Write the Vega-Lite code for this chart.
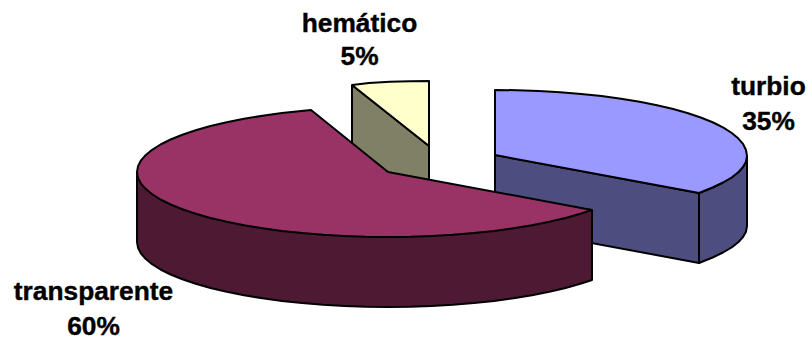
{
"$schema":"https://vega.github.io/schema/vega-lite/v6.json",
"width":812,"height":343,"padding":0,
"autosize":{"type":"fit","contains":"padding"},
"background":"white",
"view":{"stroke":null},
"datasets":{
"labels":[
{"slice":"turbio","share":0.35,"x":768.5,"yName":95,"yShare":130},
{"slice":"transparente","share":0.60,"x":93.5,"yName":300,"yShare":335},
{"slice":"hemático","share":0.05,"x":359.5,"yName":32,"yShare":65}
],
"faces":[
{"f":"hemático lado","i":0,"x":352,"y":85},{"f":"hemático lado","i":1,"x":429,"y":146},{"f":"hemático lado","i":2,"x":429,"y":216},{"f":"hemático lado","i":3,"x":352,"y":155},{"f":"hemático lado","i":4,"x":352,"y":85},
{"f":"hemático topo","i":0,"x":429,"y":146},{"f":"hemático topo","i":1,"x":352,"y":85},{"f":"hemático topo","i":2,"x":369,"y":83},{"f":"hemático topo","i":3,"x":390,"y":81.8},{"f":"hemático topo","i":4,"x":410,"y":81.2},{"f":"hemático topo","i":5,"x":429,"y":81},{"f":"hemático topo","i":6,"x":429,"y":146},
{"f":"turbio corte","i":0,"x":495,"y":155},{"f":"turbio corte","i":1,"x":699,"y":193},{"f":"turbio corte","i":2,"x":699,"y":263},{"f":"turbio corte","i":3,"x":495,"y":225},{"f":"turbio corte","i":4,"x":495,"y":155},
{"f":"turbio lado","i":0,"x":699,"y":193},{"f":"turbio lado","i":1,"x":712.6,"y":187.5},{"f":"turbio lado","i":2,"x":723,"y":182.5},{"f":"turbio lado","i":3,"x":731.6,"y":177.5},{"f":"turbio lado","i":4,"x":738.2,"y":172.3},{"f":"turbio lado","i":5,"x":743,"y":167},{"f":"turbio lado","i":6,"x":746,"y":161.7},{"f":"turbio lado","i":7,"x":747,"y":156},{"f":"turbio lado","i":8,"x":747,"y":226},{"f":"turbio lado","i":9,"x":746,"y":231.7},{"f":"turbio lado","i":10,"x":743,"y":237},{"f":"turbio lado","i":11,"x":738.2,"y":242.3},{"f":"turbio lado","i":12,"x":731.6,"y":247.5},{"f":"turbio lado","i":13,"x":723,"y":252.5},{"f":"turbio lado","i":14,"x":712.6,"y":257.5},{"f":"turbio lado","i":15,"x":699,"y":263},{"f":"turbio lado","i":16,"x":699,"y":193},
{"f":"turbio topo","i":0,"x":495,"y":155},{"f":"turbio topo","i":1,"x":495,"y":90},{"f":"turbio topo","i":2,"x":516.9,"y":90.2},{"f":"turbio topo","i":3,"x":538.7,"y":91},{"f":"turbio topo","i":4,"x":560.2,"y":92.2},{"f":"turbio topo","i":5,"x":581.1,"y":93.9},{"f":"turbio topo","i":6,"x":601.5,"y":96.1},{"f":"turbio topo","i":7,"x":621,"y":98.7},{"f":"turbio topo","i":8,"x":639.6,"y":101.8},{"f":"turbio topo","i":9,"x":657,"y":105.2},{"f":"turbio topo","i":10,"x":673.2,"y":109},{"f":"turbio topo","i":11,"x":688.1,"y":113.2},{"f":"turbio topo","i":12,"x":701.4,"y":117.7},{"f":"turbio topo","i":13,"x":713.2,"y":122.5},{"f":"turbio topo","i":14,"x":723.4,"y":127.7},{"f":"turbio topo","i":15,"x":731.8,"y":133},{"f":"turbio topo","i":16,"x":738.4,"y":138.6},{"f":"turbio topo","i":17,"x":743.2,"y":144.2},{"f":"turbio topo","i":18,"x":746,"y":150},{"f":"turbio topo","i":19,"x":747,"y":156},{"f":"turbio topo","i":20,"x":746,"y":161.7},{"f":"turbio topo","i":21,"x":743,"y":167},{"f":"turbio topo","i":22,"x":738.2,"y":172.3},{"f":"turbio topo","i":23,"x":731.6,"y":177.5},{"f":"turbio topo","i":24,"x":723,"y":182.5},{"f":"turbio topo","i":25,"x":712.6,"y":187.5},{"f":"turbio topo","i":26,"x":699,"y":193},{"f":"turbio topo","i":27,"x":495,"y":155},
{"f":"transparente lado","i":0,"x":592,"y":210},{"f":"transparente lado","i":1,"x":592,"y":280},{"f":"transparente lado","i":2,"x":580.3,"y":283.8},{"f":"transparente lado","i":3,"x":565.5,"y":288},{"f":"transparente lado","i":4,"x":549.3,"y":291.8},{"f":"transparente lado","i":5,"x":532,"y":295.2},{"f":"transparente lado","i":6,"x":513.5,"y":298.3},{"f":"transparente lado","i":7,"x":494.1,"y":300.9},{"f":"transparente lado","i":8,"x":473.8,"y":303.1},{"f":"transparente lado","i":9,"x":453,"y":304.8},{"f":"transparente lado","i":10,"x":431.6,"y":306},{"f":"transparente lado","i":11,"x":409.9,"y":306.8},{"f":"transparente lado","i":12,"x":388,"y":307},{"f":"transparente lado","i":13,"x":366.1,"y":306.8},{"f":"transparente lado","i":14,"x":344.4,"y":306},{"f":"transparente lado","i":15,"x":323,"y":304.8},{"f":"transparente lado","i":16,"x":302.2,"y":303.1},{"f":"transparente lado","i":17,"x":281.9,"y":300.9},{"f":"transparente lado","i":18,"x":262.5,"y":298.3},{"f":"transparente lado","i":19,"x":244,"y":295.2},{"f":"transparente lado","i":20,"x":226.7,"y":291.8},{"f":"transparente lado","i":21,"x":210.5,"y":288},{"f":"transparente lado","i":22,"x":195.7,"y":283.8},{"f":"transparente lado","i":23,"x":182.4,"y":279.3},{"f":"transparente lado","i":24,"x":170.6,"y":274.5},{"f":"transparente lado","i":25,"x":160.5,"y":269.5},{"f":"transparente lado","i":26,"x":152.1,"y":264.2},{"f":"transparente lado","i":27,"x":145.6,"y":258.8},{"f":"transparente lado","i":28,"x":140.8,"y":253.3},{"f":"transparente lado","i":29,"x":138,"y":247.7},{"f":"transparente lado","i":30,"x":137,"y":242},{"f":"transparente lado","i":31,"x":137,"y":172},{"f":"transparente lado","i":32,"x":592,"y":210},
{"f":"transparente topo","i":0,"x":388,"y":172},{"f":"transparente topo","i":1,"x":592,"y":210},{"f":"transparente topo","i":2,"x":580.3,"y":213.8},{"f":"transparente topo","i":3,"x":565.5,"y":218},{"f":"transparente topo","i":4,"x":549.3,"y":221.8},{"f":"transparente topo","i":5,"x":532,"y":225.2},{"f":"transparente topo","i":6,"x":513.5,"y":228.3},{"f":"transparente topo","i":7,"x":494.1,"y":230.9},{"f":"transparente topo","i":8,"x":473.8,"y":233.1},{"f":"transparente topo","i":9,"x":453,"y":234.8},{"f":"transparente topo","i":10,"x":431.6,"y":236},{"f":"transparente topo","i":11,"x":409.9,"y":236.8},{"f":"transparente topo","i":12,"x":388,"y":237},{"f":"transparente topo","i":13,"x":366.1,"y":236.8},{"f":"transparente topo","i":14,"x":344.4,"y":236},{"f":"transparente topo","i":15,"x":323,"y":234.8},{"f":"transparente topo","i":16,"x":302.2,"y":233.1},{"f":"transparente topo","i":17,"x":281.9,"y":230.9},{"f":"transparente topo","i":18,"x":262.5,"y":228.3},{"f":"transparente topo","i":19,"x":244,"y":225.2},{"f":"transparente topo","i":20,"x":226.7,"y":221.8},{"f":"transparente topo","i":21,"x":210.5,"y":218},{"f":"transparente topo","i":22,"x":195.7,"y":213.8},{"f":"transparente topo","i":23,"x":182.4,"y":209.3},{"f":"transparente topo","i":24,"x":170.6,"y":204.5},{"f":"transparente topo","i":25,"x":160.5,"y":199.5},{"f":"transparente topo","i":26,"x":152.1,"y":194.2},{"f":"transparente topo","i":27,"x":145.6,"y":188.8},{"f":"transparente topo","i":28,"x":140.8,"y":183.3},{"f":"transparente topo","i":29,"x":138,"y":177.7},{"f":"transparente topo","i":30,"x":137,"y":172},{"f":"transparente topo","i":31,"x":138,"y":166.3},{"f":"transparente topo","i":32,"x":140.8,"y":160.7},{"f":"transparente topo","i":33,"x":145.6,"y":155.2},{"f":"transparente topo","i":34,"x":152.1,"y":149.8},{"f":"transparente topo","i":35,"x":160.5,"y":144.5},{"f":"transparente topo","i":36,"x":170.6,"y":139.5},{"f":"transparente topo","i":37,"x":182.4,"y":134.7},{"f":"transparente topo","i":38,"x":195.7,"y":130.2},{"f":"transparente topo","i":39,"x":210.5,"y":126},{"f":"transparente topo","i":40,"x":226.7,"y":122.2},{"f":"transparente topo","i":41,"x":244,"y":118.8},{"f":"transparente topo","i":42,"x":262.5,"y":115.7},{"f":"transparente topo","i":43,"x":281.9,"y":113.1},{"f":"transparente topo","i":44,"x":311,"y":110},{"f":"transparente topo","i":45,"x":388,"y":172}
]},
"layer":[
{"data":{"name":"faces"},
 "mark":{"type":"line","stroke":"#000000","strokeWidth":2,"strokeJoin":"round","interpolate":"linear"},
 "encoding":{
  "x":{"field":"x","type":"quantitative","axis":null,"scale":{"domain":[0,812],"nice":false,"zero":false}},
  "y":{"field":"y","type":"quantitative","axis":null,"scale":{"domain":[343,0],"nice":false,"zero":false}},
  "order":{"field":"i","type":"quantitative"},
  "detail":{"field":"f","type":"nominal"},
  "fill":{"field":"f","type":"nominal","legend":null,"scale":{
    "domain":["hemático lado","hemático topo","turbio corte","turbio lado","turbio topo","transparente lado","transparente topo"],
    "range":["#808066","#ffffcc","#4d4d80","#4d4d80","#9999ff","#4d1933","#993366"]}}
 }},
{"data":{"name":"labels"},
 "mark":{"type":"text","font":"Liberation Sans","fontWeight":"bold","fontSize":26.3,"align":"center","baseline":"alphabetic","fill":"#000000","stroke":"#000000","strokeWidth":0.4},
 "encoding":{
  "x":{"field":"x","type":"quantitative"},
  "y":{"field":"yName","type":"quantitative"},
  "text":{"field":"slice","type":"nominal"}
 }},
{"data":{"name":"labels"},
 "mark":{"type":"text","font":"Liberation Sans","fontWeight":"bold","fontSize":26.3,"align":"center","baseline":"alphabetic","fill":"#000000","stroke":"#000000","strokeWidth":0.4},
 "encoding":{
  "x":{"field":"x","type":"quantitative"},
  "y":{"field":"yShare","type":"quantitative"},
  "text":{"field":"share","type":"quantitative","format":".0%"}
 }}
]
}
